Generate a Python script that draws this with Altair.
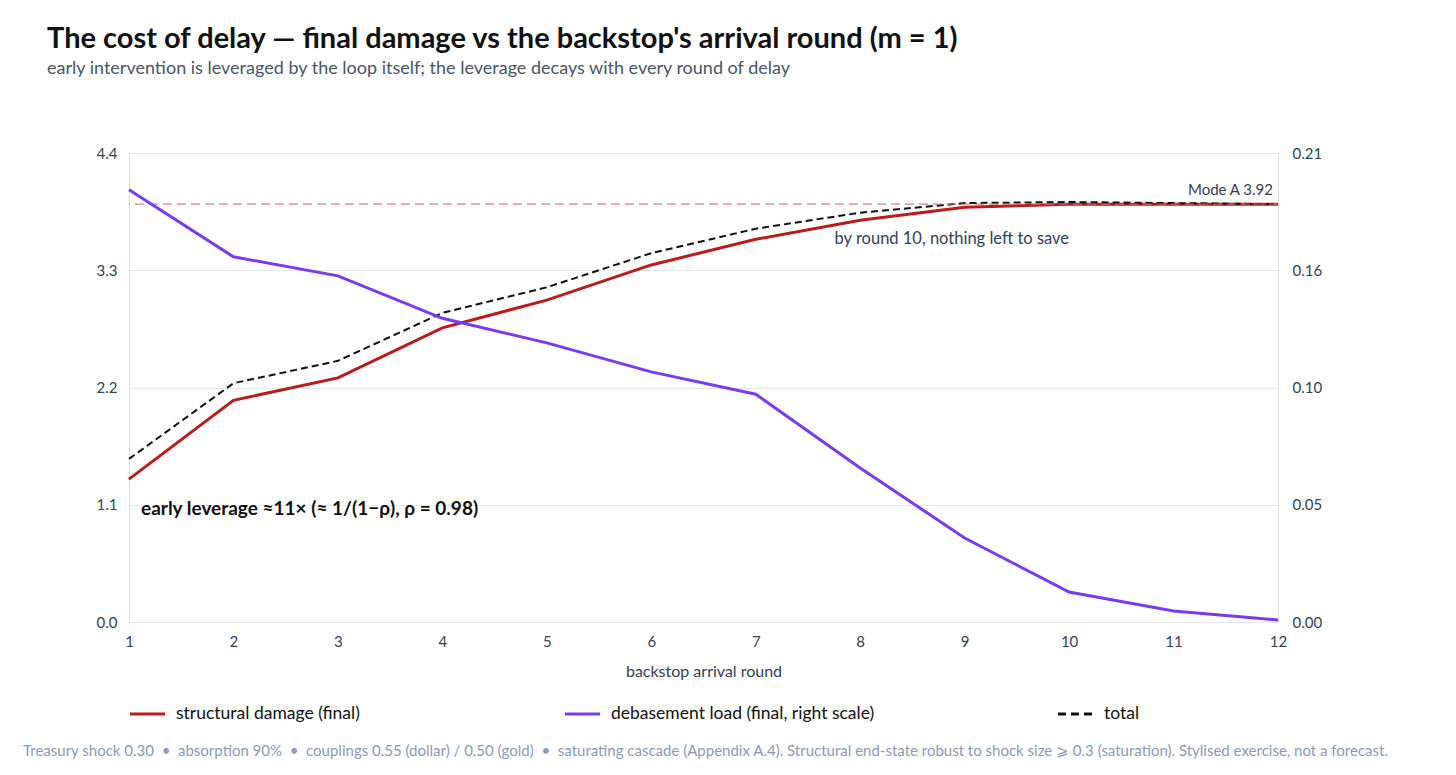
import altair as alt
import pandas as pd

# Backstop arrival round and the resulting end-state values
rounds = [1, 2, 3, 4, 5, 6, 7, 8, 9, 10, 11, 12]
structural = [1.34, 2.08, 2.29, 2.76, 3.02, 3.35, 3.59, 3.77, 3.89, 3.92, 3.92, 3.92]
debasement = [0.1935, 0.1635, 0.155, 0.136, 0.125, 0.112, 0.102, 0.069, 0.0376, 0.0134, 0.0049, 0.0009]
total = [1.53, 2.24, 2.45, 2.90, 3.14, 3.46, 3.69, 3.84, 3.93, 3.94, 3.93, 3.92]
mode_a = 3.92

left_ticks = [0.0, 1.1, 2.2, 3.3, 4.4]
right_ticks = [0.0, 0.0525, 0.105, 0.1575, 0.21]

legend_labels = ["structural damage (final)", "debasement load (final, right scale)", "total"]
legend_colors = ["#b91c1c", "#7c3aed", "#111111"]

FONT = "Lato"
W, H = 1149, 469
SP = "\u00a0\u00a0\u2022\u00a0\u00a0"

df = pd.DataFrame({"round": rounds, "structural": structural,
                   "debasement": debasement, "total": total})

x_enc = alt.X("round:Q", scale=alt.Scale(domain=[1, 12], nice=False),
              axis=alt.Axis(values=rounds, format="d", title="backstop arrival round",
                            grid=False, domain=False, ticks=False, labelFlush=False,
                            labelPadding=12, titlePadding=14, labelFontSize=15,
                            titleFontSize=16, labelColor="#334155", titleColor="#334155",
                            labelFont=FONT, titleFont=FONT, titleFontWeight="normal"))

left_scale = alt.Scale(domain=[0, 4.4], nice=False, zero=True)
left_axis = alt.Axis(values=left_ticks, format=".1f", title=None, grid=True,
                     gridColor="#e2e8f0", gridWidth=1.2, domain=False, ticks=False,
                     labelPadding=12, labelFontSize=15, labelColor="#334155", labelFont=FONT)

base = alt.Chart(df)

struct_line = base.mark_line(color="#b91c1c", strokeWidth=3).encode(
    x=x_enc, y=alt.Y("structural:Q", scale=left_scale, axis=left_axis))

total_line = base.mark_line(color="#111111", strokeWidth=2, strokeDash=[7, 4]).encode(
    x="round:Q", y=alt.Y("total:Q"))

mode_rule = alt.Chart(pd.DataFrame({"v": [mode_a]})).mark_rule(
    color="#d06b6b", strokeWidth=1.2, strokeDash=[9, 5], opacity=0.85).encode(
    y=alt.Y("v:Q"))

mode_text = alt.Chart(pd.DataFrame({"round": [12], "v": [mode_a]})).mark_text(
    align="right", baseline="bottom", dx=-5, dy=-6, fontSize=15, font=FONT,
    color="#334155").encode(x="round:Q", y="v:Q", text=alt.value(f"Mode A {mode_a:.2f}"))

late_text = alt.Chart(pd.DataFrame({"round": [10], "v": [3.59]})).mark_text(
    align="right", baseline="middle", fontSize=16.5, font=FONT, color="#334155").encode(
    x="round:Q", y="v:Q", text=alt.value("by round 10, nothing left to save"))

early_text = alt.Chart(pd.DataFrame({"round": [1], "v": [1.0]})).mark_text(
    align="left", baseline="alphabetic", dx=12, fontSize=19, fontWeight="bold",
    font=FONT, color="#111111").encode(
    x="round:Q", y="v:Q",
    text=alt.value("early leverage \u224811\u00d7 (\u2248 1/(1\u2212\u03c1), \u03c1 = 0.98)"))

left = alt.layer(struct_line, total_line, mode_rule, mode_text, late_text, early_text)

purple_line = base.mark_line(color="#7c3aed", strokeWidth=3).encode(
    x="round:Q",
    y=alt.Y("debasement:Q", scale=alt.Scale(domain=[0, 0.21], nice=False),
            axis=alt.Axis(orient="right", values=right_ticks, format=".2f", title=None,
                          grid=False, domain=False, ticks=False,
                          labelPadding=14, labelFontSize=15, labelColor="#334155",
                          labelFont=FONT)))

# Hand-placed legend row under the x axis
legend_x = [(1, 47), (436, 482), (929, 975)]
legend_layers = []
for (sx, tx), lab, col in zip(legend_x, legend_labels, legend_colors):
    one = alt.Chart(pd.DataFrame({"label": [lab]}))
    dash = [8, 5] if lab == "total" else [1, 0]
    legend_layers.append(one.mark_rule(color=col, strokeWidth=3, strokeDash=dash).encode(
        x=alt.value(sx), x2=alt.value(sx + 35), y=alt.value(561)))
    legend_layers.append(one.mark_text(align="left", baseline="middle", fontSize=17.5,
                                       font=FONT, color="#111111").encode(
        x=alt.value(tx), y=alt.value(561), text="label:N"))

footer = alt.Chart(pd.DataFrame({"t": [
    "Treasury shock 0.30" + SP + "absorption 90%" + SP + "couplings 0.55 (dollar) / 0.50 (gold)" + SP +
    "saturating cascade (Appendix A.4). Structural end-state robust to shock size \u2a7e 0.3 "
    "(saturation). Stylised exercise, not a forecast."]})).mark_text(
    align="center", baseline="middle", fontSize=15, font=FONT, color="#8a9bb8").encode(
    x=alt.value(W / 2 + 2), y=alt.value(598), text="t:N")

chart = alt.layer(left, purple_line, *legend_layers, footer).resolve_scale(
    y="independent").properties(
    width=W, height=H,
    autosize=alt.AutoSizeParams(type="none"),
    padding={"left": 129, "top": 153, "right": 178, "bottom": 153},
    title=alt.TitleParams(
        text="The cost of delay \u2014 final damage vs the backstop's arrival round (m = 1)",
        subtitle="early intervention is leveraged by the loop itself; the leverage decays with every round of delay",
        anchor="start", frame="group", dx=-82, offset=68, font=FONT, fontSize=29,
        fontWeight="bold", color="#111111", subtitleFont=FONT, subtitleFontSize=18,
        subtitleColor="#4a5568", subtitlePadding=6),
).configure_view(stroke=None).configure_axis(domain=False, ticks=False).configure_axisX(
    grid=False).configure(background="white")

chart.save("out.html", embed_options={"renderer": "svg", "actions": False})
